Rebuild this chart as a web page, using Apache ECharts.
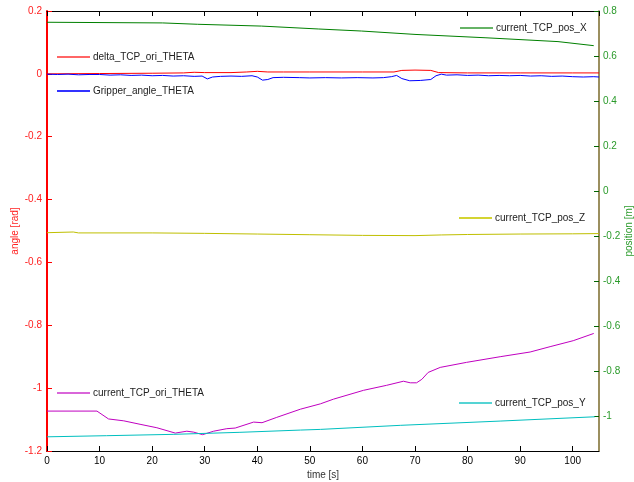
<!DOCTYPE html>
<html>
<head>
<meta charset="utf-8">
<script src="https://cdn.jsdelivr.net/npm/echarts@6/dist/echarts.min.js"></script>
<style>html,body{margin:0;padding:0;background:#fff}#c{width:634px;height:482px}</style>
</head>
<body>
<div id="c"></div>
<script>
// ---- data (time [s], value) ----
const deltaOriTheta = [[0,0.000],[10,0.001],[20,0.002],[26,0.003],[28,0.005],[30,0.004],[35,0.004],[38,0.006],[40,0.008],[42,0.006],[45,0.006],[50,0.006],[60,0.006],[66,0.006],[67.5,0.011],[70,0.012],[73,0.011],[74.5,0.004],[80,0.003],[90,0.003],[100,0.003],[105,0.003]];
const gripperTheta = [[0,-0.001],[2,-0.002],[4,-0.001],[6,-0.003],[8,-0.002],[10,-0.002],[12,-0.004],[14,-0.003],[16,-0.005],[18,-0.004],[20,-0.006],[22,-0.005],[24,-0.007],[26,-0.006],[28,-0.008],[29.5,-0.007],[30.5,-0.016],[31.5,-0.010],[33,-0.008],[35,-0.007],[37,-0.008],[39,-0.006],[40,-0.010],[41,-0.020],[42,-0.018],[43,-0.012],[45,-0.011],[48,-0.012],[50,-0.013],[53,-0.012],[56,-0.013],[59,-0.012],[62,-0.013],[64,-0.012],[65.5,-0.009],[66.5,-0.005],[67.5,-0.015],[69,-0.022],[71,-0.021],[73,-0.018],[74,-0.006],[75,-0.001],[76,-0.004],[78,-0.003],[80,-0.005],[82,-0.004],[84,-0.006],[86,-0.005],[88,-0.006],[90,-0.005],[92,-0.007],[94,-0.006],[96,-0.008],[98,-0.007],[100,-0.009],[102,-0.010],[104,-0.009],[105,-0.010]];
const curOriTheta = [[0,-1.073],[9.5,-1.073],[11.7,-1.098],[14.6,-1.104],[17.7,-1.115],[20.9,-1.126],[24.4,-1.143],[26.6,-1.137],[27.9,-1.140],[29.6,-1.148],[31.7,-1.137],[34.2,-1.129],[35.8,-1.127],[39.3,-1.108],[40.9,-1.110],[43.7,-1.093],[48.2,-1.067],[52,-1.050],[54.5,-1.035],[60.2,-1.007],[64.6,-0.991],[67.8,-0.978],[69.1,-0.983],[70.3,-0.983],[71.3,-0.972],[72.5,-0.950],[74.8,-0.934],[79.8,-0.918],[86.2,-0.900],[91.9,-0.885],[95.7,-0.868],[100.1,-0.849],[104,-0.826]];
const posX = [[0,0.750],[22,0.747],[28.6,0.741],[40.8,0.733],[51.7,0.720],[59.8,0.711],[70,0.696],[83.5,0.681],[97.2,0.664],[104,0.646]];
const posY = [[0,-1.092],[11.3,-1.087],[24,-1.081],[36.7,-1.072],[48.2,-1.062],[52,-1.059],[67.2,-1.041],[86.2,-1.022],[104.2,-1.003]];
const posZ = [[0,-0.185],[5,-0.182],[6,-0.186],[20,-0.186],[30,-0.188],[40,-0.191],[50,-0.194],[60,-0.197],[70,-0.198],[75,-0.195],[80,-0.193],[90,-0.191],[100,-0.190],[105,-0.189]];
const leftTicks = {min:-1.2, max:0.2, interval:0.2};
const rightTickValues = [-1,-0.8,-0.6,-0.4,-0.2,0,0.2,0.4,0.6,0.8];

const FONT = 'Liberation Sans, Arial, Helvetica, sans-serif';
const chart = echarts.init(document.getElementById('c'), null, {renderer:'canvas'});

function leg(name, left, top, col) {
  return {
    data:[{name:name, itemStyle:{color:col}}], left:left, top:top, padding:0,
    icon:'rect', itemWidth:33, itemHeight:2, itemGap:0, selectedMode:false,
    textStyle:{fontFamily:FONT, fontSize:10, color:'#222', padding:[0,0,0,-2]}
  };
}

const option = {
  animation:false,
  backgroundColor:'#fff',
  grid:{left:47, right:35, top:11, bottom:31, containLabel:false, outerBoundsMode:'none'},
  legend:[
    leg('delta_TCP_ori_THETA', 57, 52, '#ff6666'),
    leg('Gripper_angle_THETA', 57, 86, '#3333ff'),
    leg('current_TCP_pos_X', 460, 23, '#66b366'),
    leg('current_TCP_pos_Z', 459, 213, '#d4d433'),
    leg('current_TCP_ori_THETA', 57, 388, '#d966d9'),
    leg('current_TCP_pos_Y', 459, 398, '#55d4d4')
  ],
  xAxis:[
    {type:'value', min:0, max:105, interval:10, position:'bottom',
     name:'time [s]', nameLocation:'middle', nameGap:19, nameMoveOverlap:false,
     nameTextStyle:{fontFamily:FONT, fontSize:10, color:'#333'},
     axisLine:{show:true, onZero:false, lineStyle:{color:'#000', width:1}},
     axisTick:{show:true, inside:true, length:5, lineStyle:{color:'#000'}},
     axisLabel:{fontFamily:FONT, fontSize:10, color:'#000', margin:5, showMaxLabel:false},
     splitLine:{show:false}},
    {type:'value', min:0, max:105, interval:10, position:'top',
     axisLine:{show:true, onZero:false, lineStyle:{color:'#000', width:1}},
     axisTick:{show:true, inside:true, length:5, lineStyle:{color:'#000'}},
     axisLabel:{show:false}, splitLine:{show:false}}
  ],
  yAxis:[
    {type:'value', min:leftTicks.min, max:leftTicks.max, interval:leftTicks.interval, position:'left',
     name:'angle [rad]', nameLocation:'middle', nameGap:27, nameRotate:90, nameMoveOverlap:false,
     nameTextStyle:{fontFamily:FONT, fontSize:10, color:'#ff2020'},
     axisLine:{show:true, onZero:false, lineStyle:{color:'#ff0000', width:2}},
     axisTick:{show:true, inside:true, length:5, lineStyle:{color:'#ff0000'}},
     axisLabel:{fontFamily:FONT, fontSize:10, color:'#ff2020', margin:5},
     splitLine:{show:false}},
    {type:'value', min:-1.155, max:0.8, position:'right',
     name:'position [m]', nameLocation:'middle', nameGap:25, nameRotate:90, nameMoveOverlap:false,
     nameTextStyle:{fontFamily:FONT, fontSize:10, color:'#2a9a2a'},
     axisLine:{show:true, onZero:false, lineStyle:{color:'#7a6a2a', width:1.5}},
     axisTick:{show:true, inside:true, length:5, customValues:rightTickValues, lineStyle:{color:'#006400'}},
     axisLabel:{fontFamily:FONT, fontSize:10, color:'#2a9a2a', margin:4, customValues:rightTickValues},
     splitLine:{show:false}}
  ],
  series:[
    {name:'delta_TCP_ori_THETA', type:'line', yAxisIndex:0, data:deltaOriTheta, showSymbol:false, lineStyle:{color:'#ff0000', width:1}, itemStyle:{color:'#ff0000'}, z:3},
    {name:'Gripper_angle_THETA', type:'line', yAxisIndex:0, data:gripperTheta, showSymbol:false, lineStyle:{color:'#0000ff', width:1}, itemStyle:{color:'#0000ff'}, z:4},
    {name:'current_TCP_ori_THETA', type:'line', yAxisIndex:0, data:curOriTheta, showSymbol:false, lineStyle:{color:'#c000c0', width:1}, itemStyle:{color:'#c000c0'}},
    {name:'current_TCP_pos_X', type:'line', yAxisIndex:1, data:posX, showSymbol:false, lineStyle:{color:'#008000', width:1}, itemStyle:{color:'#008000'}},
    {name:'current_TCP_pos_Y', type:'line', yAxisIndex:1, data:posY, showSymbol:false, lineStyle:{color:'#00bfbf', width:1}, itemStyle:{color:'#00bfbf'}},
    {name:'current_TCP_pos_Z', type:'line', yAxisIndex:1, data:posZ, showSymbol:false, lineStyle:{color:'#bfbf00', width:1}, itemStyle:{color:'#bfbf00'}}
  ]
};
chart.setOption(option);
</script>
</body>
</html>
